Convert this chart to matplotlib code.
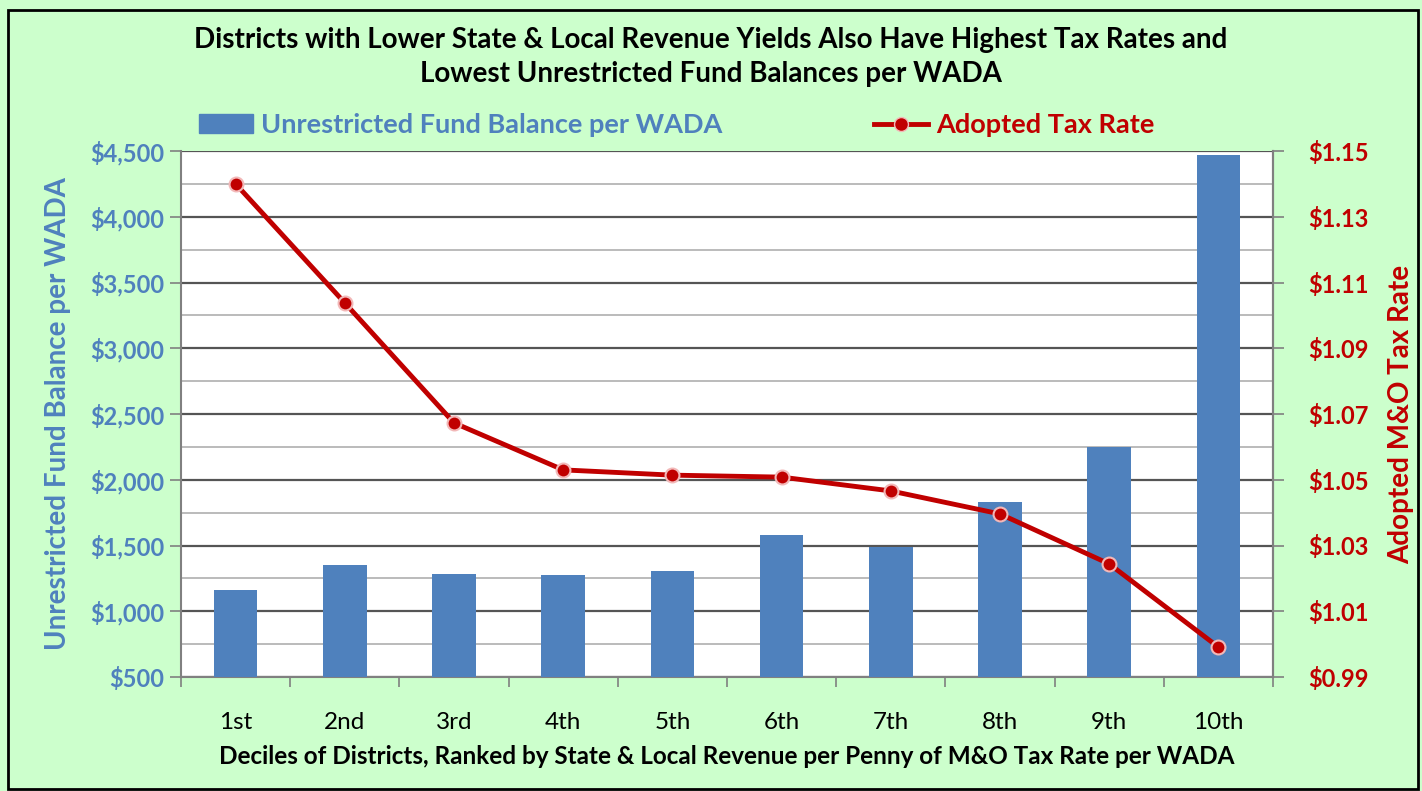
import matplotlib
matplotlib.use("Agg")
import matplotlib.pyplot as plt
from matplotlib.lines import Line2D
from matplotlib.patches import Patch, Rectangle
from matplotlib.ticker import FuncFormatter, MultipleLocator

categories = ["1st", "2nd", "3rd", "4th", "5th", "6th", "7th", "8th", "9th", "10th"]
fund_balance = [1161, 1352, 1283, 1276, 1306, 1580, 1489, 1831, 2249, 4470]
tax_rate = [1.140, 1.1038, 1.0673, 1.053, 1.0514, 1.0508, 1.0466, 1.0396, 1.0244, 0.9991]

BLUE = "#4F81BD"
RED = "#C00000"
BG = "#CCFFCC"
plt.rcParams['font.family'] = ['Lato', 'DejaVu Sans']

fig = plt.figure(figsize=(14.22, 7.91), dpi=100, facecolor=BG)
fig.patches.append(Rectangle((8/1422, 2/791), 1410/1422, 779/791, transform=fig.transFigure,
                             fill=False, edgecolor="black", linewidth=2, zorder=10))

ax = fig.add_axes([181/1422, 114/791, 1092/1422, 526/791])
ax.set_facecolor("white")
x = list(range(len(categories)))
ax.bar(x, fund_balance, width=0.4, color=BLUE, zorder=3)
ax.set_ylim(500, 4500)
ax.set_xlim(-0.5, len(categories) - 0.5)
ax.yaxis.set_major_locator(MultipleLocator(500))
ax.yaxis.set_minor_locator(MultipleLocator(250))
ax.yaxis.set_major_formatter(FuncFormatter(lambda v, p: f"${v:,.0f}"))
ax.grid(axis="y", which="major", color="#555555", linewidth=1.6, zorder=1)
ax.grid(axis="y", which="minor", color="#BBBBBB", linewidth=1.4, zorder=1)
ax.tick_params(axis="y", which="minor", length=0)
ax.tick_params(axis="y", which="major", length=8, color="#808080", width=1.2,
               labelcolor=BLUE, labelsize=17, pad=4)
for t in ax.get_yticklabels():
    t.set_fontweight("bold")
ax.set_xticks([i - 0.5 for i in range(len(categories) + 1)], minor=False)
ax.set_xticklabels([])
ax.set_xticks(x, minor=True)
ax.set_xticklabels(categories, minor=True, fontsize=17.5)
ax.tick_params(axis="x", which="major", length=7, color="#808080", width=1.2)
ax.tick_params(axis="x", which="minor", length=0, pad=25)
for s in ["left", "bottom", "right"]:
    ax.spines[s].set_color("#808080")
    ax.spines[s].set_linewidth(1.5)
ax.spines["top"].set_visible(False)
ax.set_ylabel("Unrestricted Fund Balance per WADA", color=BLUE, fontsize=20,
              fontweight="bold", labelpad=14)
ax.set_xlabel("Deciles of Districts, Ranked by State & Local Revenue per Penny of M&O Tax Rate per WADA",
              fontsize=17.5, fontweight="bold", labelpad=9)

ax2 = ax.twinx()
ax2.plot(x, tax_rate, color=RED, linewidth=3.5, marker="o", markersize=10,
         markerfacecolor=RED, markeredgecolor="#F2B8B8", markeredgewidth=1.5, zorder=5)
ax2.set_ylim(0.99, 1.15)
ax2.set_yticks([0.99 + 0.02 * i for i in range(9)])
ax2.yaxis.set_major_formatter(FuncFormatter(lambda v, p: f"${v:.2f}"))
ax2.tick_params(axis="y", length=8, color="#808080", width=1.2, labelcolor=RED,
                labelsize=17, pad=17)
for t in ax2.get_yticklabels():
    t.set_fontweight("bold")
for s in ["left", "bottom", "top"]:
    ax2.spines[s].set_visible(False)
ax2.spines["right"].set_color("#808080")
ax2.spines["right"].set_linewidth(1.5)
ax2.set_ylabel("Adopted M&O Tax Rate", color=RED, fontsize=20, fontweight="bold", labelpad=14)

fig.suptitle("Districts with Lower State & Local Revenue Yields Also Have Highest Tax Rates and\nLowest Unrestricted Fund Balances per WADA",
             fontsize=20, fontweight="bold", y=0.966, linespacing=1.4)

handles = [Patch(facecolor=BLUE, edgecolor=BLUE),
           Line2D([0], [0], color=RED, linewidth=3.5, marker="o", markersize=10,
                  markerfacecolor=RED, markeredgecolor="#F2B8B8")]
leg = fig.legend(handles, ["Unrestricted Fund Balance per WADA", "Adopted Tax Rate"],
                 loc="center", bbox_to_anchor=(677/1422, 1 - 125/791), ncol=2,
                 frameon=False, columnspacing=5.6, handlelength=2.0,
                 handletextpad=0.3, prop={"weight": "bold", "size": 19.5})
leg.get_texts()[0].set_color(BLUE)
leg.get_texts()[1].set_color(RED)

fig.savefig("out.png", dpi=100, facecolor=BG)
